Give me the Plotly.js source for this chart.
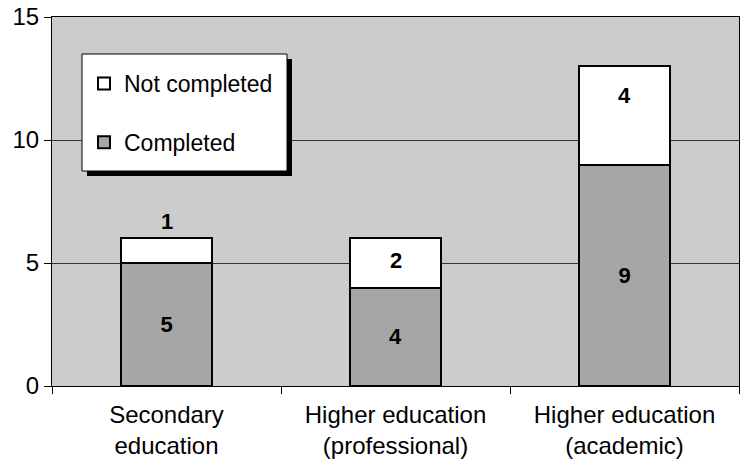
<!DOCTYPE html>
<html>
<head>
<meta charset="utf-8">
<script src="https://cdn.plot.ly/plotly-3.0.1.min.js"></script>
<style>html,body{margin:0;padding:0;background:#fff;}#chart{width:741px;height:468px;}</style>
</head>
<body>
<div id="chart"></div>
<script>
var categories = ["Secondary<br>education", "Higher education<br>(professional)", "Higher education<br>(academic)"];
var completed = [5, 4, 9];
var notCompleted = [1, 2, 4];
var yTicks = [0, 5, 10, 15];

// pixel offsets for the "Not completed" value labels (as placed in the original)
var notCompletedLabelShift = [29, 3, 20];

var W = 741, H = 468;
var M = {l: 52, r: 2, t: 17, b: 82};
var pw = W - M.l - M.r, ph = H - M.t - M.b;
function px(x) { return (x - M.l) / pw; }
function py(y) { return (H - M.b - y) / ph; }
var FONT = '"Liberation Sans", Arial, sans-serif';

var traces = [
  {
    type: 'bar', name: 'Completed', x: categories, y: completed,
    marker: {color: '#a6a6a6', line: {color: '#000', width: 2}},
    text: completed.map(String), texttemplate: '<b>%{text}</b>',
    textposition: 'inside', insidetextanchor: 'middle', textangle: 0,
    textfont: {family: FONT, size: 22, color: '#000'},
    legendgroup: 'b', legendrank: 2, hoverinfo: 'skip'
  },
  {
    type: 'bar', name: 'Not completed', x: categories, y: notCompleted,
    marker: {color: '#ffffff', line: {color: '#000', width: 2}},
    legendgroup: 'a', legendrank: 1, hoverinfo: 'skip'
  }
];

var annotations = categories.map(function (c, i) {
  return {
    x: c, y: completed[i] + notCompleted[i] / 2, xref: 'x', yref: 'y',
    text: '<b>' + notCompleted[i] + '</b>', showarrow: false,
    yshift: notCompletedLabelShift[i],
    font: {family: FONT, size: 22, color: '#000'}
  };
});

var layout = {
  width: W, height: H,
  margin: M,
  paper_bgcolor: '#ffffff', plot_bgcolor: '#cccccc',
  barmode: 'stack', bargap: 0.6,
  font: {family: FONT, size: 24, color: '#000'},
  xaxis: {
    type: 'category', showline: true, linecolor: '#000', linewidth: 1, mirror: true,
    ticks: 'outside', tickson: 'boundaries', ticklen: 7, tickcolor: '#000',
    showgrid: false, tickfont: {family: FONT, size: 24}, range: [-0.5, 2.5],
    ticklabelstandoff: 7
  },
  yaxis: {
    range: [0, 15], tickvals: yTicks, showline: true, linecolor: '#000', linewidth: 1, mirror: true,
    ticks: 'outside', ticklen: 7, tickcolor: '#000',
    showgrid: true, gridcolor: '#333', gridwidth: 1, zeroline: false,
    tickfont: {family: FONT, size: 24}
  },
  showlegend: true,
  legend: {
    x: px(84), y: py(62), xanchor: 'left', yanchor: 'top',
    bgcolor: 'rgba(0,0,0,0)', borderwidth: 0,
    traceorder: 'grouped', tracegroupgap: 26,
    font: {family: FONT, size: 23, color: '#000'}
  },
  shapes: [
    {type: 'rect', xref: 'paper', yref: 'paper', x0: px(87), x1: px(292), y0: py(176), y1: py(59),
     fillcolor: '#000', line: {width: 0}, layer: 'above'},
    {type: 'rect', xref: 'paper', yref: 'paper', x0: px(82), x1: px(287), y0: py(171), y1: py(54),
     fillcolor: '#fff', line: {color: '#000', width: 1}, layer: 'above'}
  ],
  annotations: annotations
};

Plotly.newPlot('chart', traces, layout, {staticPlot: true, displayModeBar: false});
</script>
</body>
</html>
